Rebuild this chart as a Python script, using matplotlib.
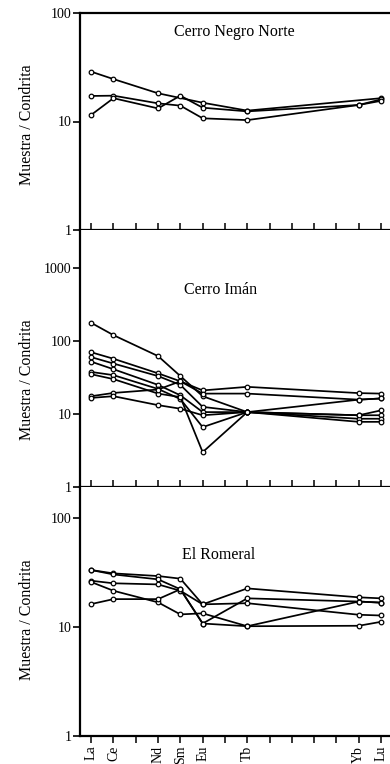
import matplotlib
matplotlib.use("Agg")
import matplotlib.pyplot as plt
import matplotlib.ticker as mticker
import numpy as np

plt.rcParams['font.family'] = ['Liberation Serif', 'DejaVu Serif']

# REE positions (La..Lu, no Pm)
elements = ["La", "Ce", "Pr", "Nd", "Sm", "Eu", "Gd", "Tb", "Dy", "Ho", "Er", "Tm", "Yb", "Lu"]
tick_labels = {"La": "La", "Ce": "Ce", "Nd": "Nd", "Sm": "Sm", "Eu": "Eu", "Tb": "Tb", "Yb": "Yb", "Lu": "Lu"}

# Cerro Negro Norte (element -> value)
cnn_1 = {"La": 28.8, "Ce": 24.6, "Nd": 18.2, "Eu": 14.9, "Tb": 12.6, "Lu": 16.4}
cnn_2 = {"La": 17.2, "Ce": 17.3, "Nd": 14.7, "Sm": 14.0, "Eu": 10.7, "Tb": 10.3, "Yb": 14.2, "Lu": 16.0}
cnn_3 = {"La": 11.5, "Ce": 16.4, "Nd": 13.2, "Sm": 17.3, "Eu": 13.4, "Tb": 12.4, "Yb": 14.2, "Lu": 15.5}

# Cerro Imán
ci_1 = {"La": 177, "Ce": 120, "Nd": 62, "Sm": 33, "Eu": 17.5, "Tb": 10.6, "Yb": 9.6, "Lu": 9.6}
ci_2 = {"La": 70, "Ce": 57, "Nd": 36, "Sm": 28, "Eu": 21, "Tb": 23.5, "Yb": 19.3, "Lu": 19.0}
ci_3 = {"La": 60, "Ce": 49, "Nd": 33, "Sm": 25, "Eu": 12.5, "Tb": 10.6, "Yb": 8.6, "Lu": 8.6}
ci_4 = {"La": 52, "Ce": 41, "Nd": 25, "Sm": 18, "Eu": 10.6, "Tb": 10.6, "Yb": 7.8, "Lu": 7.8}
ci_5 = {"La": 37.6, "Ce": 34, "Nd": 22, "Sm": 16, "Eu": 6.6, "Tb": 10.6, "Yb": 9.6, "Lu": 11.2}
ci_6 = {"La": 35, "Ce": 30, "Nd": 19, "Sm": 17, "Eu": 3.0, "Tb": 10.6}
ci_7 = {"La": 17.5, "Ce": 19.4, "Nd": 21.6, "Sm": 28, "Eu": 19.0, "Tb": 19.0, "Yb": 15.7, "Lu": 16.3}
ci_8 = {"La": 16.6, "Ce": 17.5, "Nd": 13.2, "Sm": 11.8, "Eu": 9.6, "Tb": 10.6, "Yb": 15.7, "Lu": 16.3}

# El Romeral
er_1 = {"La": 33.5, "Ce": 31.2, "Nd": 29.5, "Sm": 27.9, "Eu": 16.2, "Tb": 22.7, "Yb": 18.8, "Lu": 18.4}
er_2 = {"La": 33.5, "Ce": 30.5, "Nd": 27.5, "Sm": 22.3, "Eu": 10.8, "Tb": 18.4, "Yb": 17.2, "Lu": 16.8}
er_3 = {"La": 26.7, "Ce": 25.3, "Nd": 24.7, "Sm": 21.6, "Eu": 16.2, "Tb": 16.6, "Yb": 13.0, "Lu": 12.8}
er_4 = {"La": 26.0, "Ce": 21.6, "Nd": 16.9, "Sm": 13.1, "Eu": 13.4, "Tb": 10.2, "Yb": 17.2, "Lu": 16.8}
er_5 = {"La": 16.3, "Ce": 18.1, "Nd": 18.1, "Sm": 22.3, "Eu": 10.8, "Tb": 10.2, "Yb": 10.3, "Lu": 11.2}

panels = [
    ("Cerro Negro Norte", [cnn_1, cnn_2, cnn_3], (1, 100), [1, 10, 100]),
    ("Cerro Imán", [ci_1, ci_2, ci_3, ci_4, ci_5, ci_6, ci_7, ci_8], (1, 3300), [1, 10, 100, 1000]),
    ("El Romeral", [er_1, er_2, er_3, er_4, er_5], (1, 194), [1, 10, 100]),
]

W, H = 390, 764
fig = plt.figure(figsize=(W / 100, H / 100), dpi=100)

# pixel boxes (top, bottom)
boxes = [(13, 230), (230, 487), (487, 736)]
title_pos = [(0.497, 0.912), (0.452, 0.767), (0.448, 0.727)]
ylabel_y = [125, 380, 620]
left_px = 80
x_of = {e: i for i, e in enumerate(elements)}

for k, ((title, series, ylim, yt), (t, b)) in enumerate(zip(panels, boxes)):
    ax = fig.add_axes([left_px / W, 1 - b / H, 1 - left_px / W, (b - t) / H])
    for s in series:
        xs = [x_of[e] for e in elements if e in s]
        ys = [s[e] for e in elements if e in s]
        ax.plot(xs, ys, color="black", lw=1.25, marker="o", ms=3.3,
                mfc="white", mec="black", mew=0.9, zorder=3)
    ax.set_yscale("log")
    ax.set_ylim(*ylim)
    ax.set_xlim(-0.5, 13.4)
    ax.yaxis.set_major_locator(mticker.FixedLocator(yt))
    ax.yaxis.set_major_formatter(mticker.FixedFormatter([str(v) for v in yt]))
    ax.yaxis.set_minor_locator(mticker.NullLocator())
    ax.set_xticks(range(len(elements)))
    ax.tick_params(axis="y", direction="out", length=5, width=1.2, labelsize=10, pad=1)
    ax.spines["right"].set_visible(False)
    ax.spines["top"].set_visible(k == 0)
    for sp in ("left", "bottom", "top"):
        ax.spines[sp].set_linewidth(1.6)
    if k < 2:
        ax.tick_params(axis="x", direction="in", length=5, width=1.1, labelbottom=False)
    else:
        ax.tick_params(axis="x", direction="out", length=5, width=1.1, labelsize=10, pad=2)
        ax.set_xticklabels([tick_labels.get(e, "") for e in elements], rotation=90)
    ax.text(title_pos[k][0], title_pos[k][1], title, transform=ax.transAxes,
            ha="center", va="center", fontsize=11.5)
    fig.text(27 / W, 1 - ylabel_y[k] / H, "Muestra / Condrita", rotation=90,
             ha="center", va="center", fontsize=11.5)

fig.savefig("out.png", dpi=100)
